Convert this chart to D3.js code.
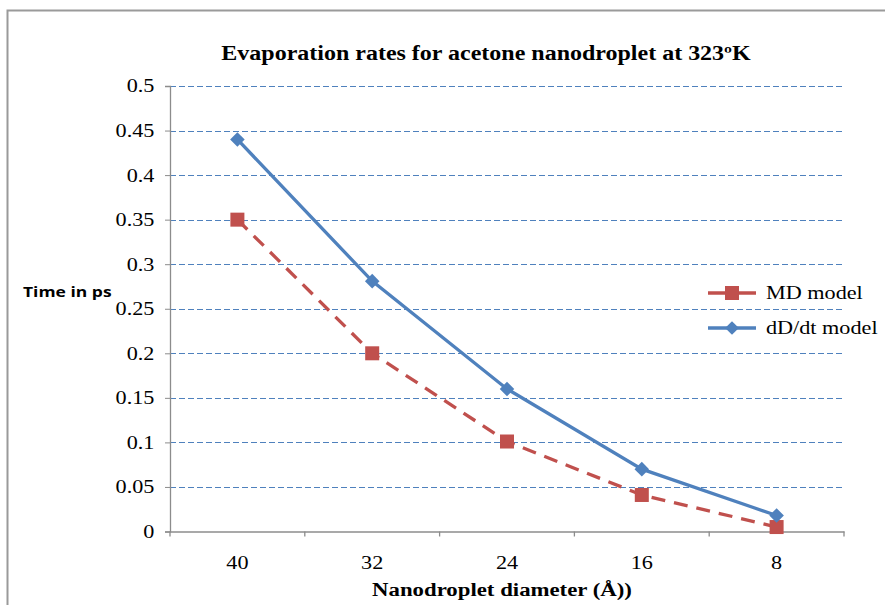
<!DOCTYPE html>
<html>
<head>
<meta charset="utf-8">
<script src="https://cdn.jsdelivr.net/npm/d3@7"></script>
<style>
  body { margin: 0; background: #fff; }
  svg { display: block; }
</style>
</head>
<body>
<script>
// chart data
var categories = ['40', '32', '24', '16', '8'];
var mdModel = [0.35, 0.2, 0.101, 0.041, 0.005];
var dddtModel = [0.44, 0.281, 0.16, 0.07, 0.018];
var yTicks = [0, 0.05, 0.1, 0.15, 0.2, 0.25, 0.3, 0.35, 0.4, 0.45, 0.5];

var W = 885, H = 605;
var plot = { left: 170, right: 844, top: 86, bottom: 531.5 };
var serif = "'Liberation Serif', 'Times New Roman', serif";
var stretch = 1.2; // the original text is a bit wide

var svg = d3.select('body').append('svg').attr('width', W).attr('height', H);

// outer frame (top + left only visible)
svg.append('path')
    .attr('d', 'M7.5,' + H + 'V10.5H' + W)
    .attr('fill', 'none').attr('stroke', '#9a9a9a').attr('stroke-width', 2);

var x = d3.scaleBand().domain(categories).range([plot.left, plot.right]);
var y = d3.scaleLinear().domain([0, 0.5]).range([plot.bottom, plot.top]);

// gridlines
svg.append('g').selectAll('line').data(yTicks.filter(d => d > 0)).join('line')
    .attr('x1', plot.left).attr('x2', plot.right)
    .attr('y1', d => Math.round(y(d)) + 0.5).attr('y2', d => Math.round(y(d)) + 0.5)
    .attr('stroke', '#4f81bd').attr('stroke-width', 1.2)
    .attr('stroke-dasharray', '6,3');

// y axis
var yAxis = svg.append('g').attr('transform', 'translate(' + plot.left + ',0)')
    .call(d3.axisLeft(y).tickValues(yTicks).tickSize(5).tickPadding(8).tickFormat(d3.format('')));
yAxis.select('.domain').attr('stroke', '#8c8c8c').attr('stroke-width', 1.3);
yAxis.selectAll('.tick line').attr('stroke', '#8c8c8c');
yAxis.selectAll('text').attr('font-family', serif)
    .attr('font-size', 18.5).attr('fill', '#000')
    .attr('transform', 'scale(' + stretch + ',1)');

// x axis
var xAxis = svg.append('g').attr('transform', 'translate(0,' + plot.bottom + ')')
    .call(d3.axisBottom(x).tickSize(0).tickPadding(24));
xAxis.select('.domain').attr('stroke', '#8c8c8c').attr('stroke-width', 1.3);
xAxis.selectAll('text').attr('font-family', serif)
    .attr('font-size', 18.5).attr('fill', '#000')
    .attr('transform', 'scale(' + stretch + ',1)');
// category separators
var sep = [plot.left].concat(categories.map(c => x(c) + x.bandwidth()));
xAxis.selectAll('line.sep').data(sep).join('line').attr('class', 'sep')
    .attr('x1', d => d).attr('x2', d => d).attr('y1', 0).attr('y2', 5)
    .attr('stroke', '#8c8c8c').attr('stroke-width', 1.3);

var cx = (d, i) => x(categories[i]) + x.bandwidth() / 2;
var line = d3.line().x(cx).y(d => y(d));

// MD model (red dashed, squares)
svg.append('path').attr('d', line(mdModel))
    .attr('fill', 'none').attr('stroke', '#c0504d').attr('stroke-width', 3.3)
    .attr('stroke-dasharray', '14,9');
svg.append('g').selectAll('rect').data(mdModel).join('rect')
    .attr('x', (d, i) => cx(d, i) - 7).attr('y', d => y(d) - 7)
    .attr('width', 14).attr('height', 14).attr('fill', '#c0504d');

// dD/dt model (blue solid, diamonds)
svg.append('path').attr('d', line(dddtModel))
    .attr('fill', 'none').attr('stroke', '#4f81bd').attr('stroke-width', 3.3);
svg.append('g').selectAll('path').data(dddtModel).join('path')
    .attr('d', d3.symbol().type(d3.symbolDiamond2).size(135))
    .attr('transform', (d, i) => 'translate(' + cx(d, i) + ',' + y(d) + ')')
    .attr('fill', '#4f81bd');

// legend
var legend = svg.append('g').attr('font-family', serif).attr('font-size', 18.5);
var lg1 = legend.append('g').attr('transform', 'translate(708,293)');
lg1.append('line').attr('x1', 0).attr('x2', 48).attr('stroke', '#c0504d').attr('stroke-width', 3.3);
lg1.append('rect').attr('x', 17).attr('y', -7).attr('width', 14).attr('height', 14).attr('fill', '#c0504d');
lg1.append('text').attr('transform', 'translate(58,6) scale(' + stretch + ',1)').text('MD model');
var lg2 = legend.append('g').attr('transform', 'translate(708,328)');
lg2.append('line').attr('x1', 0).attr('x2', 48).attr('stroke', '#4f81bd').attr('stroke-width', 3.3);
lg2.append('path').attr('d', d3.symbol().type(d3.symbolDiamond2).size(120)())
    .attr('transform', 'translate(24,0)').attr('fill', '#4f81bd');
lg2.append('text').attr('transform', 'translate(58,6) scale(' + stretch + ',1)').text('dD/dt model');

// title and axis labels
svg.append('text').attr('transform', 'translate(486,60) scale(' + stretch + ',1)')
    .attr('text-anchor', 'middle')
    .attr('font-family', serif).attr('font-weight', 'bold')
    .attr('font-size', 20).text('Evaporation rates for acetone nanodroplet at 323ºK');
svg.append('text').attr('transform', 'translate(23,297) scale(1.25,1)')
    .attr('font-family', "'Open Sans', sans-serif").attr('font-weight', 'bold')
    .attr('font-size', 14).text('Time in ps');
svg.append('text').attr('transform', 'translate(502,596) scale(' + stretch + ',1)')
    .attr('text-anchor', 'middle')
    .attr('font-family', serif).attr('font-weight', 'bold')
    .attr('font-size', 19).text('Nanodroplet diameter (Å))');
</script>
</body>
</html>
